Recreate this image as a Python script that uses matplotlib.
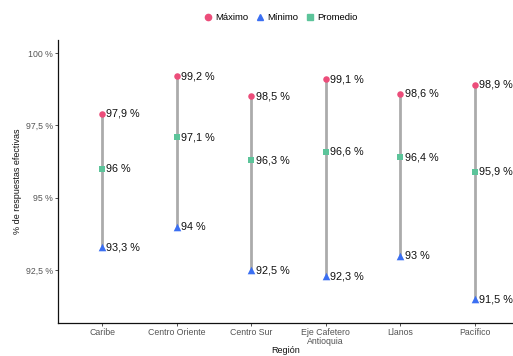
import matplotlib
matplotlib.use("Agg")
import matplotlib.pyplot as plt
from matplotlib.lines import Line2D

regions = ["Caribe", "Centro Oriente", "Centro Sur", "Eje Cafetero\nAntioquia", "Llanos", "Pacífico"]
maximo = [97.9, 99.2, 98.5, 99.1, 98.6, 98.9]
minimo = [93.3, 94.0, 92.5, 92.3, 93.0, 91.5]
promedio = [96.0, 97.1, 96.3, 96.6, 96.4, 95.9]
yticks = [92.5, 95, 97.5, 100]
yticklabels = ["92,5 %", "95 %", "97,5 %", "100 %"]

def fmt(v):
    s = ("%.1f" % v).rstrip("0").rstrip(".")
    return s.replace(".", ",") + " %"

c_max = "#EC4D7A"
c_min = "#3B6FF2"
c_avg = "#5CC49A"

plt.rcParams['font.family'] = ['Liberation Sans', 'DejaVu Sans']
fig = plt.figure(figsize=(5.13, 3.56), dpi=100)
ax = fig.add_axes([58/513, 1 - 323/356, (513 - 58)/513, (323 - 40)/356])

x = list(range(len(regions)))
for i in x:
    ax.plot([i, i], [minimo[i], maximo[i]], color="#ABABAB", lw=2.0, zorder=1, solid_capstyle="butt")
ax.scatter(x, maximo, color=c_max, marker="o", s=22, zorder=3, linewidths=0)
ax.scatter(x, minimo, color=c_min, marker="^", s=30, zorder=3, linewidths=0)
ax.scatter(x, promedio, color=c_avg, marker="s", s=22, zorder=3, linewidths=0)
for i in x:
    for v in (maximo[i], minimo[i], promedio[i]):
        ax.text(i + 0.06, v, fmt(v), ha="left", va="center", fontsize=7.8, color="#111111", zorder=4)

ax.set_xlim(-0.59, 5.51)
ax.set_ylim(90.68, 100.45)
ax.set_xticks(x)
ax.set_xticklabels(regions, fontsize=6.3, color="#555555", linespacing=0.95)
ax.set_yticks(yticks)
ax.set_yticklabels(yticklabels, fontsize=6.3, color="#555555")
ax.tick_params(axis="both", length=2.5, width=0.6, color="#333333", pad=1)
for s in ["top", "right"]:
    ax.spines[s].set_visible(False)
for s in ["left", "bottom"]:
    ax.spines[s].set_linewidth(0.9)
    ax.spines[s].set_color("#111111")
ax.set_xlabel("Región", fontsize=6.5, color="#111111", labelpad=0)
ax.set_ylabel("% de respuestas efectivas", fontsize=6.5, color="#111111", labelpad=3)

handles = [
    Line2D([], [], marker="o", color=c_max, linestyle="none", markersize=4.5),
    Line2D([], [], marker="^", color=c_min, linestyle="none", markersize=5),
    Line2D([], [], marker="s", color=c_avg, linestyle="none", markersize=4.5),
]
leg = fig.legend(handles, ["Máximo", "Mínimo", "Promedio"], loc="center", bbox_to_anchor=(280/513, 1 - 18/356),
                 ncol=3, frameon=False, fontsize=6.8, handlelength=1.1, handletextpad=0.2, columnspacing=0.7)

fig.savefig("out.png", dpi=100)
